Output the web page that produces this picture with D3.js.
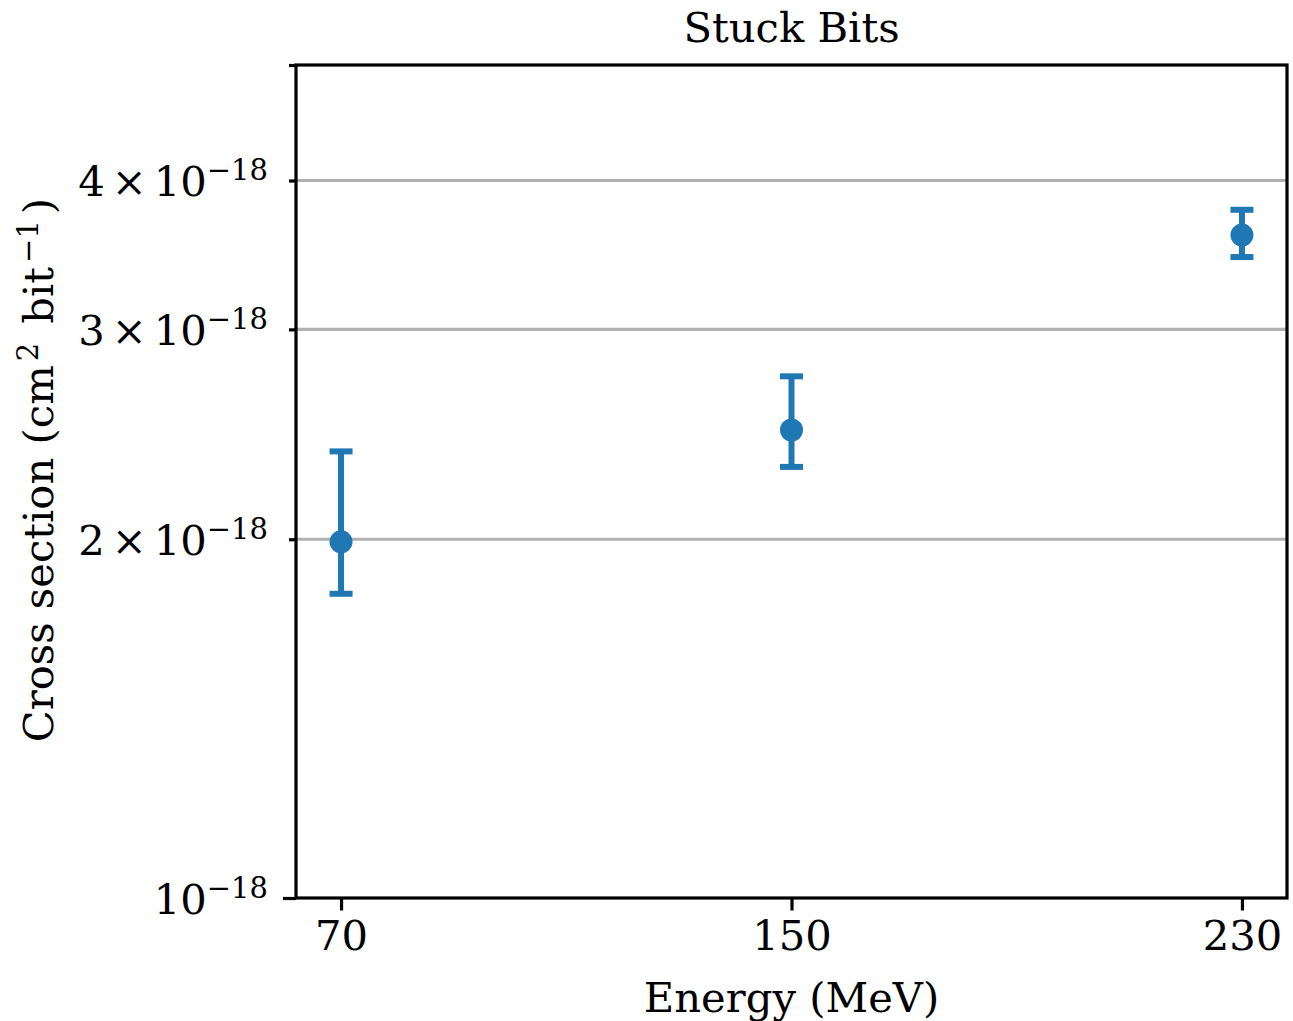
<!DOCTYPE html>
<html>
<head>
    <meta charset="utf-8">
    <title>Stuck Bits</title>
    <script src="https://d3js.org/d3.v7.min.js"></script>
    <style>
        body { margin: 0; background: #fff; }
        text { font-family: "DejaVu Serif", serif; fill: #000; }
    </style>
</head>
<body>
    <script>
        const [width, height] = [1293, 1021]
        const margin = {left: 296, right: 6, top: 65, bottom: 123}

        // data
        const energies = [70, 150, 230]
        const crossSection = [1.99e-18, 2.47e-18, 3.60e-18]
        const errLow = [1.80e-18, 2.30e-18, 3.45e-18]
        const errHigh = [2.37e-18, 2.74e-18, 3.78e-18]
        const xTicks = [70, 150, 230]
        const yMajor = [1e-18]
        const yMinor = [2e-18, 3e-18, 4e-18, 5e-18]
        const yMinorLabels = ["2", "3", "4", null]

        const blue = "#1f77b4"

        const svg = d3.select("body")
            .append("svg")
            .attr("width", width)
            .attr("height", height);

        const x = d3.scaleLinear()
            .domain([62, 238])
            .range([margin.left, width - margin.right]);

        const y = d3.scaleLog()
            .domain([1e-18, 5e-18])
            .range([height - margin.bottom, margin.top]);

        // grid lines on the labelled minor ticks
        svg.append("g")
            .selectAll("line")
            .data(yMinor.slice(0, 3))
            .enter()
            .append("line")
            .attr("x1", margin.left)
            .attr("x2", width - margin.right)
            .attr("y1", d => y(d))
            .attr("y2", d => y(d))
            .style("stroke", "#b0b0b0")
            .style("stroke-width", 3.2);

        // error bars
        const pts = energies.map((e, i) => ({e, v: crossSection[i], lo: errLow[i], hi: errHigh[i]}));
        const eb = svg.append("g").style("stroke", blue).style("stroke-width", 6);
        eb.selectAll(".stem")
            .data(pts)
            .enter()
            .append("line")
            .attr("x1", d => x(d.e))
            .attr("x2", d => x(d.e))
            .attr("y1", d => y(d.lo))
            .attr("y2", d => y(d.hi));
        ["lo", "hi"].forEach(k => {
            eb.selectAll(".cap-" + k)
                .data(pts)
                .enter()
                .append("line")
                .attr("x1", d => x(d.e) - 11.5)
                .attr("x2", d => x(d.e) + 11.5)
                .attr("y1", d => y(d[k]))
                .attr("y2", d => y(d[k]));
        });

        svg.append("g")
            .selectAll("circle")
            .data(pts)
            .enter()
            .append("circle")
            .attr("cx", d => x(d.e))
            .attr("cy", d => y(d.v))
            .attr("r", 11.5)
            .style("fill", blue);

        // axes frame
        svg.append("rect")
            .attr("x", margin.left)
            .attr("y", margin.top)
            .attr("width", width - margin.left - margin.right)
            .attr("height", height - margin.top - margin.bottom)
            .style("fill", "none")
            .style("stroke", "#000")
            .style("stroke-width", 3.2);

        const xAxis = svg.append("g")
            .attr("transform", `translate(0,${height - margin.bottom})`)
            .call(d3.axisBottom(x).tickValues(xTicks).tickSize(12.5).tickPadding(10));
        xAxis.select(".domain").remove();
        xAxis.selectAll("line").style("stroke-width", 3.2);
        xAxis.selectAll("text")
            .style("font-family", "DejaVu Serif")
            .style("font-size", "41.7px")
            .attr("fill", "#000");

        const yMaj = svg.append("g")
            .attr("transform", `translate(${margin.left},0)`)
            .call(d3.axisLeft(y).tickValues(yMajor).tickSize(13).tickFormat(""));
        const yMin = svg.append("g")
            .attr("transform", `translate(${margin.left},0)`)
            .call(d3.axisLeft(y).tickValues(yMinor).tickSize(7).tickFormat(""));
        [yMaj, yMin].forEach(g => {
            g.select(".domain").remove();
            g.selectAll("line").style("stroke-width", 3.2);
        });

        // y tick labels in math style: a x 10^-18
        const yLabels = yMajor.map(v => ({v, m: null}))
            .concat(yMinor.map((v, i) => ({v, m: yMinorLabels[i]})).filter(d => d.m));
        yLabels.forEach(d => {
            const t = svg.append("text")
                .attr("x", 268)
                .attr("y", y(d.v) + 16)
                .attr("text-anchor", "end")
                .style("font-size", "41.7px");
            if (d.m) {
                t.append("tspan").text(d.m);
                t.append("tspan").attr("dx", 7).text("\u00d7");
                t.append("tspan").attr("dx", 7).text("10");
            } else {
                t.append("tspan").text("10");
            }
            t.append("tspan")
                .attr("dy", -16)
                .style("font-size", "29px")
                .text("\u221218");
        });

        svg.append("text")
            .attr("x", (margin.left + width - margin.right) / 2)
            .attr("y", 42)
            .attr("text-anchor", "middle")
            .style("font-size", "41.7px")
            .text("Stuck Bits");

        svg.append("text")
            .attr("x", (margin.left + width - margin.right) / 2)
            .attr("y", 1012)
            .attr("text-anchor", "middle")
            .style("font-size", "41.7px")
            .text("Energy (MeV)");

        const yl = svg.append("text")
            .attr("transform", "translate(53,470) rotate(-90)")
            .attr("text-anchor", "middle")
            .style("font-size", "41.7px");
        yl.append("tspan").text("Cross section (cm");
        yl.append("tspan").attr("dx", 4).attr("dy", -15).style("font-size", "29px").text("2");
        yl.append("tspan").attr("dx", 6).attr("dy", 15).text(" bit");
        yl.append("tspan").attr("dx", 4).attr("dy", -15).style("font-size", "29px").text("\u22121");
        yl.append("tspan").attr("dx", 6).attr("dy", 15).text(")");
    </script>
</body>
</html>
